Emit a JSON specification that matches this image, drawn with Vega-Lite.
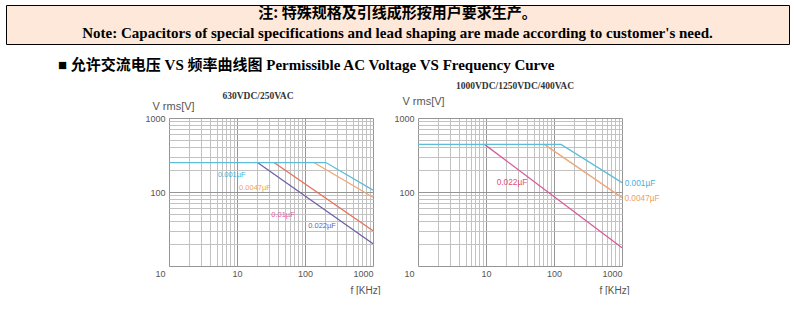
{
  "$schema": "https://vega.github.io/schema/vega-lite/v6.json",
  "padding": {"left": 5, "top": 4, "right": 0, "bottom": 0},
  "background": "white",
  "config": {"view": {"stroke": null}, "font": "Liberation Sans"},
  "datasets": {
    "note": [
      {"row": 1, "t": "注: 特殊规格及引线成形按用户要求生产。"},
      {"row": 2, "t": "Note: Capacitors of special specifications and lead shaping are made according to customer's need."}
    ],
    "left": [
      {"cap": "0.0047µF", "f": 135, "v": 250},
      {"cap": "0.0047µF", "f": 1000, "v": 85},
      {"cap": "0.01µF", "f": 35, "v": 250},
      {"cap": "0.01µF", "f": 1000, "v": 30},
      {"cap": "0.022µF", "f": 20, "v": 250},
      {"cap": "0.022µF", "f": 1000, "v": 20},
      {"cap": "0.001µF", "f": 1, "v": 250},
      {"cap": "0.001µF", "f": 203, "v": 250},
      {"cap": "0.001µF", "f": 1000, "v": 106}
    ],
    "leftLabels": [
      {"cap": "0.001µF", "f": 8.4, "v": 170},
      {"cap": "0.0047µF", "f": 18.4, "v": 114},
      {"cap": "0.01µF", "f": 47.5, "v": 48.4},
      {"cap": "0.022µF", "f": 178, "v": 34.7}
    ],
    "right": [
      {"cap": "0.0047µF", "f": 72, "v": 440},
      {"cap": "0.0047µF", "f": 1000, "v": 84},
      {"cap": "0.022µF", "f": 9.5, "v": 440},
      {"cap": "0.022µF", "f": 1000, "v": 17.7},
      {"cap": "0.001µF", "f": 1, "v": 440},
      {"cap": "0.001µF", "f": 127, "v": 440},
      {"cap": "0.001µF", "f": 1000, "v": 134}
    ],
    "rightLabels": [
      {"cap": "0.022µF", "f": 24.1, "v": 131},
      {"cap": "0.001µF", "f": 1840, "v": 127},
      {"cap": "0.0047µF", "f": 1970, "v": 79.6}
    ]
  },
  "columns": 1,
  "align": "none",
  "spacing": 6,
  "concat": [
    {
      "width": 783,
      "height": 39,
      "view": {"fill": "#fde8d9", "stroke": "#000000", "strokeWidth": 1},
      "title": {
        "text": "■ 允许交流电压 VS 频率曲线图 Permissible AC Voltage VS Frequency Curve",
        "orient": "bottom",
        "anchor": "start",
        "dx": 52,
        "offset": 14,
        "font": "Liberation Serif, Noto Sans CJK SC",
        "fontSize": 15,
        "fontWeight": "bold",
        "color": "#000000"
      },
      "data": {"name": "note"},
      "layer": [
        {
          "transform": [{"filter": "datum.row == 1"}],
          "mark": {"type": "text", "font": "Noto Sans CJK SC", "fontSize": 15, "fontWeight": "bold", "color": "#000000", "dy": -2},
          "encoding": {
            "y": {"field": "row", "type": "ordinal", "axis": null, "scale": {"padding": 0.6, "align": 0.47}},
            "text": {"field": "t"}
          }
        },
        {
          "transform": [{"filter": "datum.row == 2"}],
          "mark": {"type": "text", "font": "Liberation Serif", "fontSize": 15, "fontWeight": "bold", "color": "#000000"},
          "encoding": {
            "y": {"field": "row", "type": "ordinal", "axis": null},
            "text": {"field": "t"}
          }
        }
      ]
    },
    {
      "bounds": "flush",
      "spacing": 45,
      "hconcat": [
        {
          "width": 118,
          "height": 148,
          "data": {"values": []},
          "mark": {"type": "text"},
          "encoding": {}
        },
        {
          "width": 204,
          "height": 148,
          "title": {"text": "630VDC/250VAC", "font": "Liberation Serif", "fontSize": 9.5, "fontWeight": "bold", "color": "#333333", "anchor": "middle", "frame": "group", "dx": -13, "offset": 0},
          "layer": [
            {
              "data": {"name": "left"},
              "mark": {"type": "line", "strokeWidth": 1.3},
              "encoding": {
                "x": {
                  "field": "f", "type": "quantitative",
                  "scale": {"type": "log", "domain": [1, 1000]},
                  "axis": {
                    "values": [1,2,3,4,5,6,7,8,9,10,20,30,40,50,60,70,80,90,100,200,300,400,500,600,700,800,900,1000],
                    "labelExpr": "datum.value == 10 ? '10' : datum.value == 100 ? '100' : datum.value == 1000 ? '1000' : ''",
                    "domain": false, "ticks": false,
                    "labelFont": "Liberation Sans", "labelFontSize": 9, "labelColor": "#555555", "labelPadding": 3,
                    "gridColor": {"condition": {"test": "datum.value == 1 || datum.value == 10 || datum.value == 100 || datum.value == 1000", "value": "#959595"}, "value": "#c2c2c2"},
                    "title": "f [KHz]", "titleFont": "Liberation Sans", "titleFontSize": 10, "titleFontWeight": "normal", "titleColor": "#555555",
                    "titleX": 196, "titleY": 24, "titleAlign": "center", "titleBaseline": "middle"
                  }
                },
                "y": {
                  "field": "v", "type": "quantitative",
                  "scale": {"type": "log", "domain": [10, 1000]},
                  "axis": {
                    "values": [10,20,30,40,50,60,70,80,90,100,200,300,400,500,600,700,800,900,1000],
                    "labelExpr": "datum.value == 10 ? '10' : datum.value == 100 ? '100' : datum.value == 1000 ? '1000' : ''",
                    "domain": false, "ticks": false,
                    "labelFont": "Liberation Sans", "labelFontSize": 9, "labelColor": "#555555", "labelPadding": 4,
                    "labelBaseline": {"condition": {"test": "datum.value == 10", "value": "top"}, "value": "middle"},
                    "labelOffset": {"condition": {"test": "datum.value == 10", "value": 3}, "value": 0},
                    "gridColor": {"condition": {"test": "datum.value == 10 || datum.value == 100 || datum.value == 1000", "value": "#959595"}, "value": "#c2c2c2"},
                    "title": "V rms[V]", "titleFont": "Liberation Sans", "titleFontSize": 11, "titleFontWeight": "normal", "titleColor": "#555555",
                    "titleAngle": 0, "titleX": 4, "titleY": -12, "titleAlign": "center", "titleBaseline": "middle"
                  }
                },
                "color": {
                  "field": "cap", "type": "nominal", "legend": null,
                  "scale": {"domain": ["0.001µF", "0.0047µF", "0.01µF", "0.022µF"], "range": ["#5fbcd8", "#f0a676", "#e8705a", "#6e60a8"]}
                }
              }
            },
            {
              "data": {"name": "leftLabels"},
              "mark": {"type": "text", "fontSize": 7.5, "font": "Liberation Sans"},
              "encoding": {
                "x": {"field": "f", "type": "quantitative"},
                "y": {"field": "v", "type": "quantitative"},
                "text": {"field": "cap"},
                "color": {
                  "field": "cap", "type": "nominal", "legend": null,
                  "scale": {"domain": ["0.001µF", "0.0047µF", "0.01µF", "0.022µF"], "range": ["#3fb0e0", "#f0a060", "#e85aa8", "#6e60b0"]}
                }
              }
            }
          ],
          "resolve": {"scale": {"color": "independent"}}
        },
        {
          "width": 204,
          "height": 148,
          "title": {"text": "1000VDC/1250VDC/400VAC", "font": "Liberation Serif", "fontSize": 9.5, "fontWeight": "bold", "color": "#333333", "anchor": "middle", "frame": "group", "dx": -5, "offset": 5},
          "layer": [
            {
              "data": {"name": "right"},
              "mark": {"type": "line", "strokeWidth": 1.3},
              "encoding": {
                "x": {
                  "field": "f", "type": "quantitative",
                  "scale": {"type": "log", "domain": [1, 1000]},
                  "axis": {
                    "values": [1,2,3,4,5,6,7,8,9,10,20,30,40,50,60,70,80,90,100,200,300,400,500,600,700,800,900,1000],
                    "labelExpr": "datum.value == 10 ? '10' : datum.value == 100 ? '100' : datum.value == 1000 ? '1000' : ''",
                    "domain": false, "ticks": false,
                    "labelFont": "Liberation Sans", "labelFontSize": 9, "labelColor": "#555555", "labelPadding": 3,
                    "gridColor": {"condition": {"test": "datum.value == 1 || datum.value == 10 || datum.value == 100 || datum.value == 1000", "value": "#959595"}, "value": "#c2c2c2"},
                    "title": "f [KHz]", "titleFont": "Liberation Sans", "titleFontSize": 10, "titleFontWeight": "normal", "titleColor": "#555555",
                    "titleX": 196, "titleY": 24, "titleAlign": "center", "titleBaseline": "middle"
                  }
                },
                "y": {
                  "field": "v", "type": "quantitative",
                  "scale": {"type": "log", "domain": [10, 1000]},
                  "axis": {
                    "values": [10,20,30,40,50,60,70,80,90,100,200,300,400,500,600,700,800,900,1000],
                    "labelExpr": "datum.value == 10 ? '10' : datum.value == 100 ? '100' : datum.value == 1000 ? '1000' : ''",
                    "domain": false, "ticks": false,
                    "labelFont": "Liberation Sans", "labelFontSize": 9, "labelColor": "#555555", "labelPadding": 4,
                    "labelBaseline": {"condition": {"test": "datum.value == 10", "value": "top"}, "value": "middle"},
                    "labelOffset": {"condition": {"test": "datum.value == 10", "value": 3}, "value": 0},
                    "gridColor": {"condition": {"test": "datum.value == 10 || datum.value == 100 || datum.value == 1000", "value": "#959595"}, "value": "#c2c2c2"},
                    "title": "V rms[V]", "titleFont": "Liberation Sans", "titleFontSize": 11, "titleFontWeight": "normal", "titleColor": "#555555",
                    "titleAngle": 0, "titleX": 5, "titleY": -17, "titleAlign": "center", "titleBaseline": "middle"
                  }
                },
                "color": {
                  "field": "cap", "type": "nominal", "legend": null,
                  "scale": {"domain": ["0.001µF", "0.0047µF", "0.022µF"], "range": ["#5fbcd8", "#f0a676", "#d65a9a"]}
                }
              }
            },
            {
              "data": {"name": "rightLabels"},
              "mark": {"type": "text", "fontSize": 8.3, "font": "Liberation Sans"},
              "encoding": {
                "x": {"field": "f", "type": "quantitative"},
                "y": {"field": "v", "type": "quantitative"},
                "text": {"field": "cap"},
                "color": {
                  "field": "cap", "type": "nominal", "legend": null,
                  "scale": {"domain": ["0.001µF", "0.0047µF", "0.022µF"], "range": ["#3fb0e0", "#f0a060", "#e0507a"]}
                }
              }
            }
          ],
          "resolve": {"scale": {"color": "independent"}}
        }
      ]
    }
  ]
}
